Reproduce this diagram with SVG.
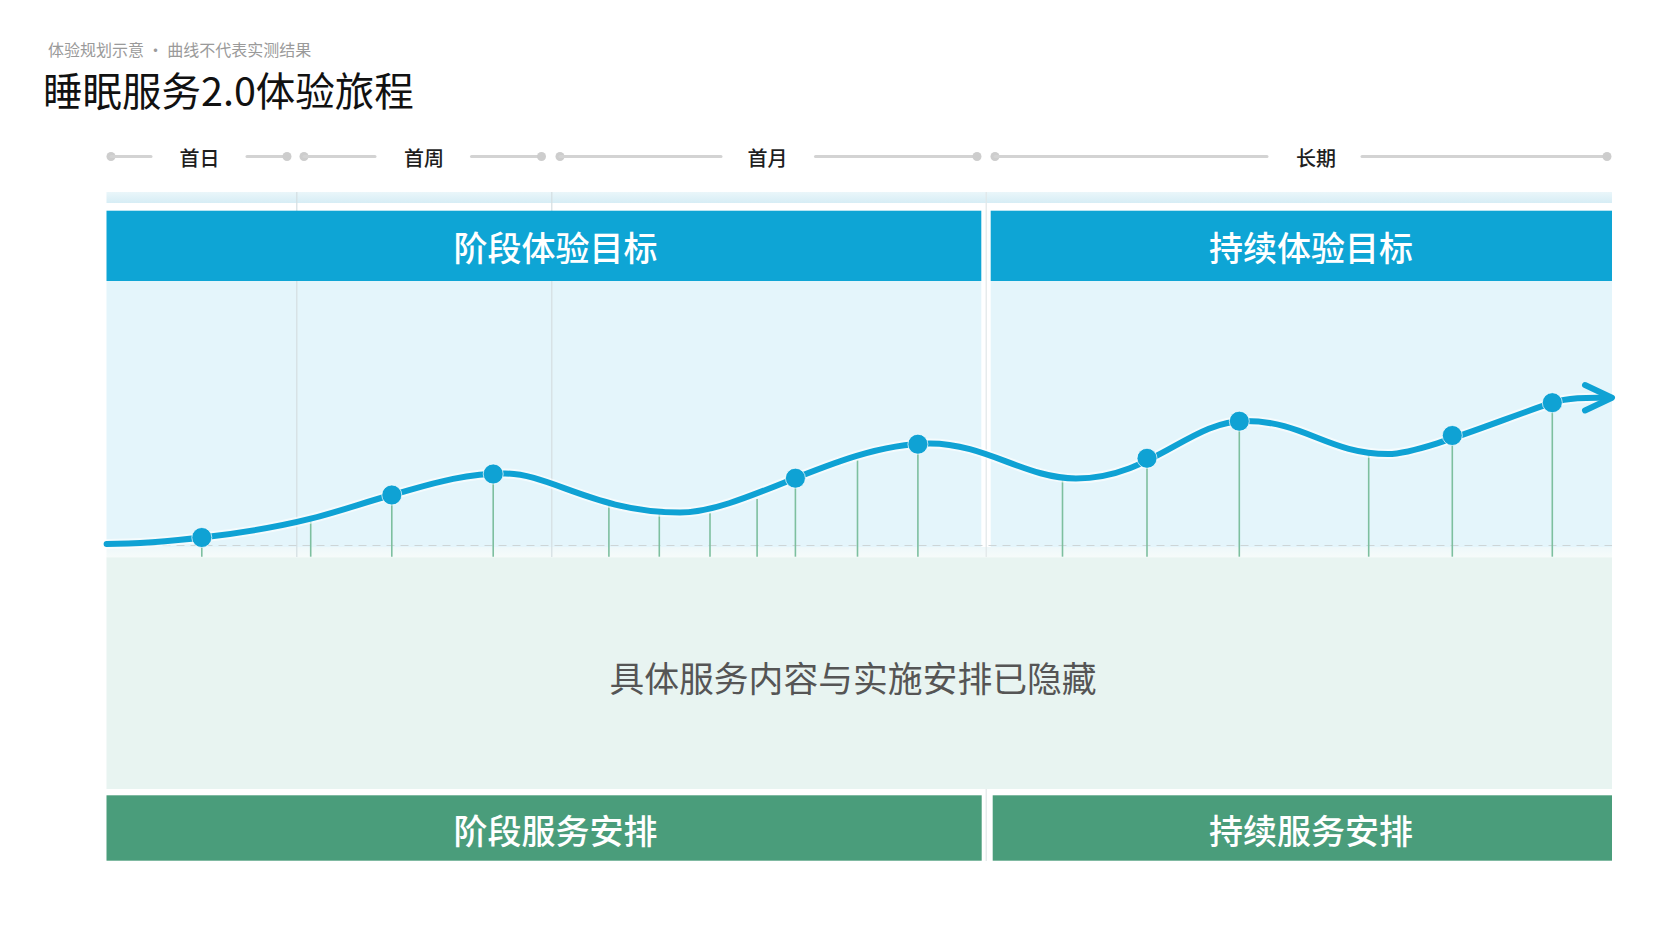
<svg xmlns="http://www.w3.org/2000/svg" width="1672" height="940" viewBox="0 0 1672 940">
  <defs>
    <linearGradient id="strip" x1="0" y1="0" x2="0" y2="1">
      <stop offset="0" stop-color="#eaf6fa"/>
      <stop offset="1" stop-color="#d6edf5"/>
    </linearGradient>
    <linearGradient id="gap" x1="0" y1="0" x2="0" y2="1">
      <stop offset="0" stop-color="#eef8fa"/>
      <stop offset="1" stop-color="#f6fbfa"/>
    </linearGradient>
    <style>
      .cjk { font-family: "Noto Sans CJK SC", "Noto Sans", "Liberation Sans", sans-serif; }
      .tl-line { stroke: #d3d3d3; stroke-width: 3; stroke-linecap: round; fill: none; }
      .tl-dot { fill: #cdcdcd; }
      .tl-label { font-size: 20px; font-weight: 500; fill: #1e1e1e; text-anchor: middle; dominant-baseline: central; }
      .head { fill: #0ea5d5; }
      .foot { fill: #4a9d7b; }
      .bar-text { font-size: 34px; font-weight: 500; fill: #ffffff; text-anchor: middle; dominant-baseline: central; }
      .area-blue { fill: #e4f5fb; }
      .grid { stroke: #d4dee1; stroke-width: 1.2; }
      .stem { stroke: #7dbf9f; stroke-width: 1.6; }
      .curve { stroke: #0fa2d4; stroke-width: 6; fill: none; stroke-linecap: round; stroke-linejoin: round; }
      .halo { stroke: #ffffff; stroke-width: 10; fill: none; opacity: 0.6; stroke-linecap: round; }
      .dot { fill: #0fa2d4; stroke: #ffffff; stroke-width: 1; stroke-opacity: 0.7; }
    </style>
  </defs>

  <rect x="0" y="0" width="1672" height="940" fill="#ffffff"/>

  <!-- Header titles -->
  <g id="subtitle">
    <text class="cjk" x="48" y="56" font-size="16" fill="#9a9a9a">体验规划示意 · 曲线不代表实测结果</text>
  </g>
  <g id="title">
    <text class="cjk" x="43" y="106" font-size="39.5" fill="#111111">睡眠服务2.0体验旅程</text>
  </g>

  <!-- Timeline -->
  <g id="timeline-day1">
    <circle class="tl-dot" cx="111" cy="156.5" r="4.5"/>
    <line class="tl-line" x1="111" y1="156.5" x2="151" y2="156.5"/>
    <text class="cjk tl-label" x="199.5" y="157">首日</text>
    <line class="tl-line" x1="247" y1="156.5" x2="287" y2="156.5"/>
    <circle class="tl-dot" cx="287" cy="156.5" r="4.5"/>
  </g>
  <g id="timeline-week1">
    <circle class="tl-dot" cx="304" cy="156.5" r="4.5"/>
    <line class="tl-line" x1="304" y1="156.5" x2="375" y2="156.5"/>
    <text class="cjk tl-label" x="424" y="157">首周</text>
    <line class="tl-line" x1="471.5" y1="156.5" x2="541.5" y2="156.5"/>
    <circle class="tl-dot" cx="541.5" cy="156.5" r="4.5"/>
  </g>
  <g id="timeline-month1">
    <circle class="tl-dot" cx="560" cy="156.5" r="4.5"/>
    <line class="tl-line" x1="560" y1="156.5" x2="721" y2="156.5"/>
    <text class="cjk tl-label" x="767.5" y="157">首月</text>
    <line class="tl-line" x1="815.5" y1="156.5" x2="977" y2="156.5"/>
    <circle class="tl-dot" cx="977" cy="156.5" r="4.5"/>
  </g>
  <g id="timeline-long">
    <circle class="tl-dot" cx="995" cy="156.5" r="4.5"/>
    <line class="tl-line" x1="995" y1="156.5" x2="1267" y2="156.5"/>
    <text class="cjk tl-label" x="1316" y="157">长期</text>
    <line class="tl-line" x1="1362" y1="156.5" x2="1607" y2="156.5"/>
    <circle class="tl-dot" cx="1607" cy="156.5" r="4.5"/>
  </g>

  <!-- Background panels -->
  <g id="panels">
    <rect x="106.5" y="192" width="1505.5" height="11" fill="url(#strip)"/>
    <rect class="area-blue" x="106.5" y="281" width="874.8" height="266"/>
    <rect class="area-blue" x="990.7" y="281" width="621.3" height="266"/>
    <rect x="106.5" y="547" width="1505.5" height="10.5" fill="url(#gap)"/>
    <rect x="106.5" y="557.3" width="1505.5" height="231.7" fill="#e8f4f1"/>
    <line class="grid" x1="296.8" y1="192" x2="296.8" y2="557"/>
    <line class="grid" x1="551.8" y1="192" x2="551.8" y2="557"/>
    <line x1="986.2" y1="192" x2="986.2" y2="557" stroke="#e0e6e8" stroke-width="1.2"/>
    <line x1="986.2" y1="789" x2="986.2" y2="861" stroke="#e0e6e8" stroke-width="1.2"/>
    <line x1="106.5" y1="545.5" x2="1612" y2="545.5" stroke="#cdd5d7" stroke-width="1.2" stroke-dasharray="8 6"/>
  </g>

  <g id="goal-stage">
    <rect class="head" x="106.5" y="210.7" width="874.8" height="70.3"/>
    <text class="cjk bar-text" x="555.5" y="246">阶段体验目标</text>
  </g>
  <g id="goal-continuous">
    <rect class="head" x="990.7" y="210.7" width="621.3" height="70.3"/>
    <text class="cjk bar-text" x="1311" y="246">持续体验目标</text>
  </g>

  <g id="hidden-content">
    <text class="cjk" x="853" y="676.5" font-size="34.8" fill="#555555" text-anchor="middle" dominant-baseline="central">具体服务内容与实施安排已隐藏</text>
  </g>

  <g id="service-stage">
    <rect class="foot" x="106.5" y="795.3" width="875.2" height="65.4"/>
    <text class="cjk bar-text" x="555.5" y="829.5">阶段服务安排</text>
  </g>
  <g id="service-continuous">
    <rect class="foot" x="992.7" y="795.3" width="619.3" height="65.4"/>
    <text class="cjk bar-text" x="1311" y="829.5">持续服务安排</text>
  </g>

  <!-- Connectors: stems and experience curve -->
  <g id="connectors">
    <g id="stems">
      <line class="stem" x1="201.8" y1="537.7" x2="201.8" y2="556.7"/>
      <line class="stem" x1="310.7" y1="520.7" x2="310.7" y2="556.7"/>
      <line class="stem" x1="391.8" y1="495" x2="391.8" y2="556.7"/>
      <line class="stem" x1="493.2" y1="474" x2="493.2" y2="556.7"/>
      <line class="stem" x1="608.9" y1="503" x2="608.9" y2="556.7"/>
      <line class="stem" x1="659.3" y1="514" x2="659.3" y2="556.7"/>
      <line class="stem" x1="710" y1="513" x2="710" y2="556.7"/>
      <line class="stem" x1="757.1" y1="499" x2="757.1" y2="556.7"/>
      <line class="stem" x1="795.4" y1="478" x2="795.4" y2="556.7"/>
      <line class="stem" x1="857.5" y1="460" x2="857.5" y2="556.7"/>
      <line class="stem" x1="917.9" y1="444" x2="917.9" y2="556.7"/>
      <line class="stem" x1="1062.5" y1="479" x2="1062.5" y2="556.7"/>
      <line class="stem" x1="1147" y1="458" x2="1147" y2="556.7"/>
      <line class="stem" x1="1239.3" y1="421" x2="1239.3" y2="556.7"/>
      <line class="stem" x1="1368.7" y1="455" x2="1368.7" y2="556.7"/>
      <line class="stem" x1="1452.3" y1="434" x2="1452.3" y2="556.7"/>
      <line class="stem" x1="1552.3" y1="403" x2="1552.3" y2="556.7"/>
    </g>
    <path class="halo" d="M106.6,544 C160,544 250,534 310.7,518.7 C345,510 365,502 391.8,495 C425,486 460,473.5 505,473.5 C550,473.5 595,512.5 680,512.5 C745,512.5 840,443.5 930,443.5 C985,443.5 1026,478.5 1076,478.5 C1151,478.5 1190,421 1245,421 C1305,421 1328,454 1388,454 C1420,454 1500,420 1552.3,402.7 C1570.3,396.75 1592,397.7 1608,397.7"/>
    <path id="experience-curve" class="curve" d="M106.6,544 C160,544 250,534 310.7,518.7 C345,510 365,502 391.8,495 C425,486 460,473.5 505,473.5 C550,473.5 595,512.5 680,512.5 C745,512.5 840,443.5 930,443.5 C985,443.5 1026,478.5 1076,478.5 C1151,478.5 1190,421 1245,421 C1305,421 1328,454 1388,454 C1420,454 1500,420 1552.3,402.7 C1570.3,396.75 1592,397.7 1608,397.7"/>
    <path id="arrowhead" class="curve" stroke-width="6.5" d="M1585,385 L1612,397.7 L1585,410.5"/>
  </g>

  <g id="milestones">
    <circle class="dot" cx="201.8" cy="537.5" r="10"/>
    <circle class="dot" cx="391.8" cy="495" r="10"/>
    <circle class="dot" cx="493.2" cy="474" r="10"/>
    <circle class="dot" cx="795.4" cy="478.2" r="10"/>
    <circle class="dot" cx="917.9" cy="444.2" r="10"/>
    <circle class="dot" cx="1147" cy="458.3" r="10"/>
    <circle class="dot" cx="1239.3" cy="421.2" r="10"/>
    <circle class="dot" cx="1452.3" cy="435.5" r="10"/>
    <circle class="dot" cx="1552.3" cy="402.7" r="10"/>
  </g>
</svg>
